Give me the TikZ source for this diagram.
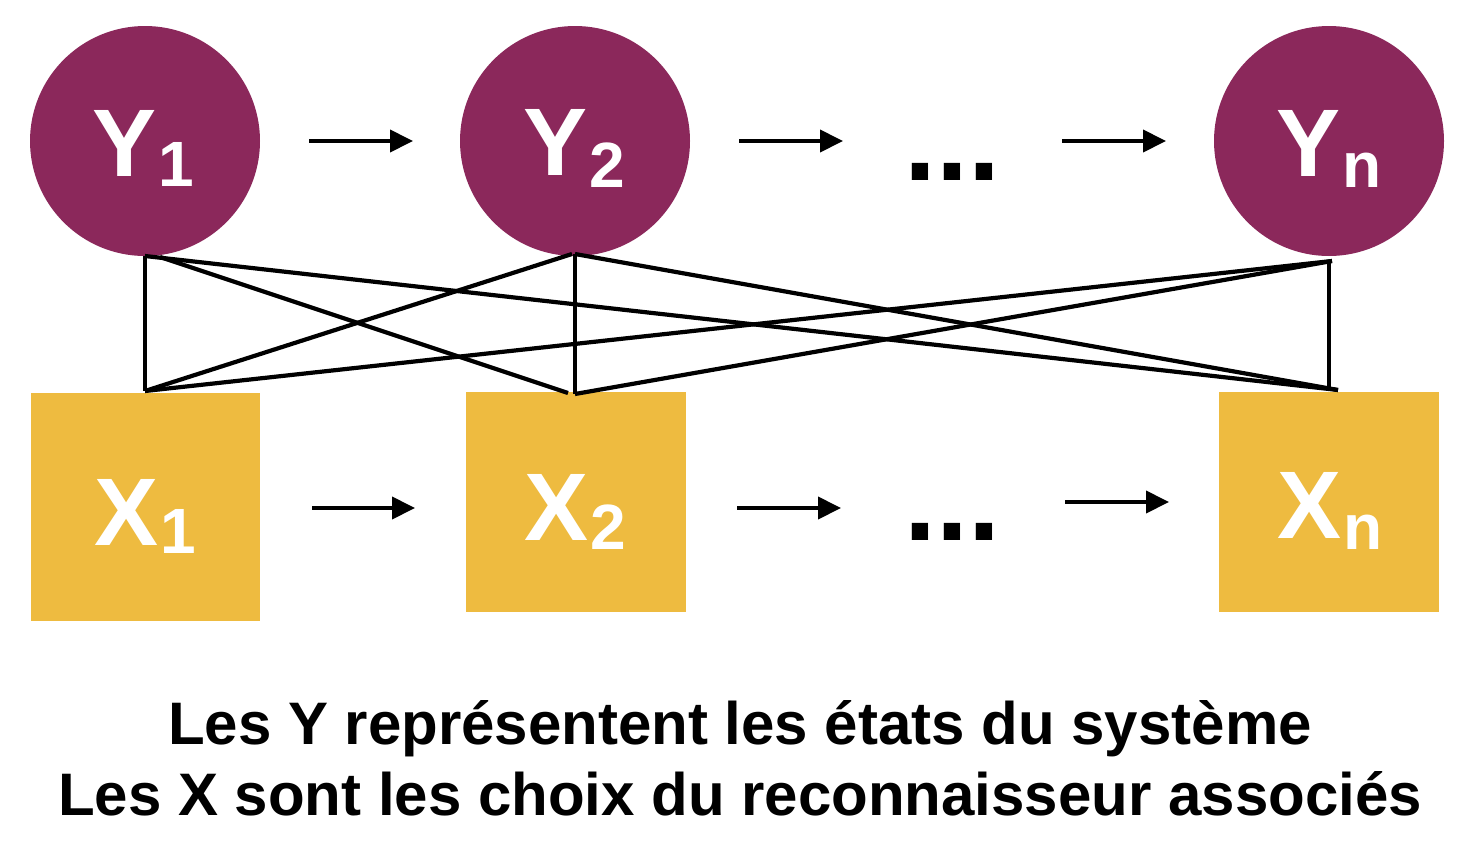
\documentclass[tikz,border=0pt]{standalone}
\usepackage{fontspec}
\setmainfont{Liberation Sans}
\usetikzlibrary{arrows.meta}
\definecolor{ypurple}{HTML}{8B285B}
\definecolor{xyellow}{HTML}{EEBB40}
% letter, subscript, drop of the subscript
\newcommand{\lbl}[3]{{\fontsize{96}{96}\selectfont\bfseries #1}\kern2pt\raisebox{-#3pt}{\fontsize{64}{64}\selectfont\bfseries #2}}
\tikzset{
  ynode/.style={circle, fill=ypurple, minimum size=230pt, inner sep=0pt},
  xnode/.style={rectangle, fill=xyellow, minimum width=220pt, minimum height=220pt, inner sep=0pt},
  nlabel/.style={anchor=base west, inner sep=0pt, outer sep=0pt, text=white},
  link/.style={line width=4.2pt, line cap=butt, line join=miter},
  flow/.style={line width=4pt, -{Triangle[length=23pt,width=22pt]}},
  dotsnode/.style={anchor=base, inner sep=0pt, font=\fontsize{115}{115}\selectfont\bfseries},
  caption/.style={font=\fontsize{60}{71}\selectfont\bfseries, align=center}
}
\begin{document}
\begin{tikzpicture}[x=1pt,y=-1pt]
\useasboundingbox (0,0) rectangle (1478,846);
% Y nodes
\node[ynode] (Y1) at (145,141) {};
\node[ynode] (Y2) at (575,141) {};
\node[ynode] (Yn) at (1329,141) {};
% X nodes
\node[xnode, minimum width=229pt, minimum height=228pt] (X1) at (145.5,507) {};
\node[xnode] (X2) at (576,501.5) {};
\node[xnode] (Xn) at (1329,501.5) {};
% labels
\node[nlabel] (Y1t) at (92,176) {\lbl{Y}{1}{10}};
\node[nlabel] (Y2t) at (523,175) {\lbl{Y}{2}{12}};
\node[nlabel] (Ynt) at (1276,176) {\lbl{Y}{n}{11}};
\node[nlabel] (X1t) at (94,545) {\lbl{X}{1}{8}};
\node[nlabel] (X2t) at (524,540) {\lbl{X}{2}{9}};
\node[nlabel] (Xnt) at (1277,538) {\lbl{X}{n}{11}};
% ellipses
\node[dotsnode] (dy) at (952,180) {...};
\node[dotsnode] (dx) at (952,540) {...};
% attachment points
\coordinate (y1a) at (145,256);
\coordinate (y1b) at (160,257);
\coordinate (y2a) at (572,254);
\coordinate (y2b) at (575,254);
\coordinate (yna) at (1332,261);
\coordinate (ynb) at (1329,261);
\coordinate (x1a) at (145,391);
\coordinate (x2a) at (568,393);
\coordinate (x2b) at (575,394);
\coordinate (xna) at (1338,390);
\coordinate (xnb) at (1329,388);
% links
\draw[link] (y1a) -- (x1a);
\draw[link] (y1b) -- (x2a);
\draw[link] (y1a) -- (xna);
\draw[link] (y2a) -- (x1a);
\draw[link] (y2b) -- (x2b);
\draw[link] (y2b) -- (xna);
\draw[link] (yna) -- (x1a);
\draw[link] (yna) -- (x2b);
\draw[link] (ynb) -- (xnb);
% arrows between Y
\coordinate (ay1s) at (309,141); \coordinate (ay1e) at (413,141);
\coordinate (ay2s) at (739,141); \coordinate (ay2e) at (843,141);
\coordinate (ay3s) at (1062,141); \coordinate (ay3e) at (1166,141);
\draw[flow] (ay1s) -- (ay1e);
\draw[flow] (ay2s) -- (ay2e);
\draw[flow] (ay3s) -- (ay3e);
% arrows between X
\coordinate (ax1s) at (312,508); \coordinate (ax1e) at (415,508);
\coordinate (ax2s) at (737,508); \coordinate (ax2e) at (841,508);
\coordinate (ax3s) at (1065,502); \coordinate (ax3e) at (1169,502);
\draw[flow] (ax1s) -- (ax1e);
\draw[flow] (ax2s) -- (ax2e);
\draw[flow] (ax3s) -- (ax3e);
% caption
\node[caption] (cap) at (740,758) {Les Y représentent les états du système\\Les X sont les choix du reconnaisseur associés};
\end{tikzpicture}
\end{document}
